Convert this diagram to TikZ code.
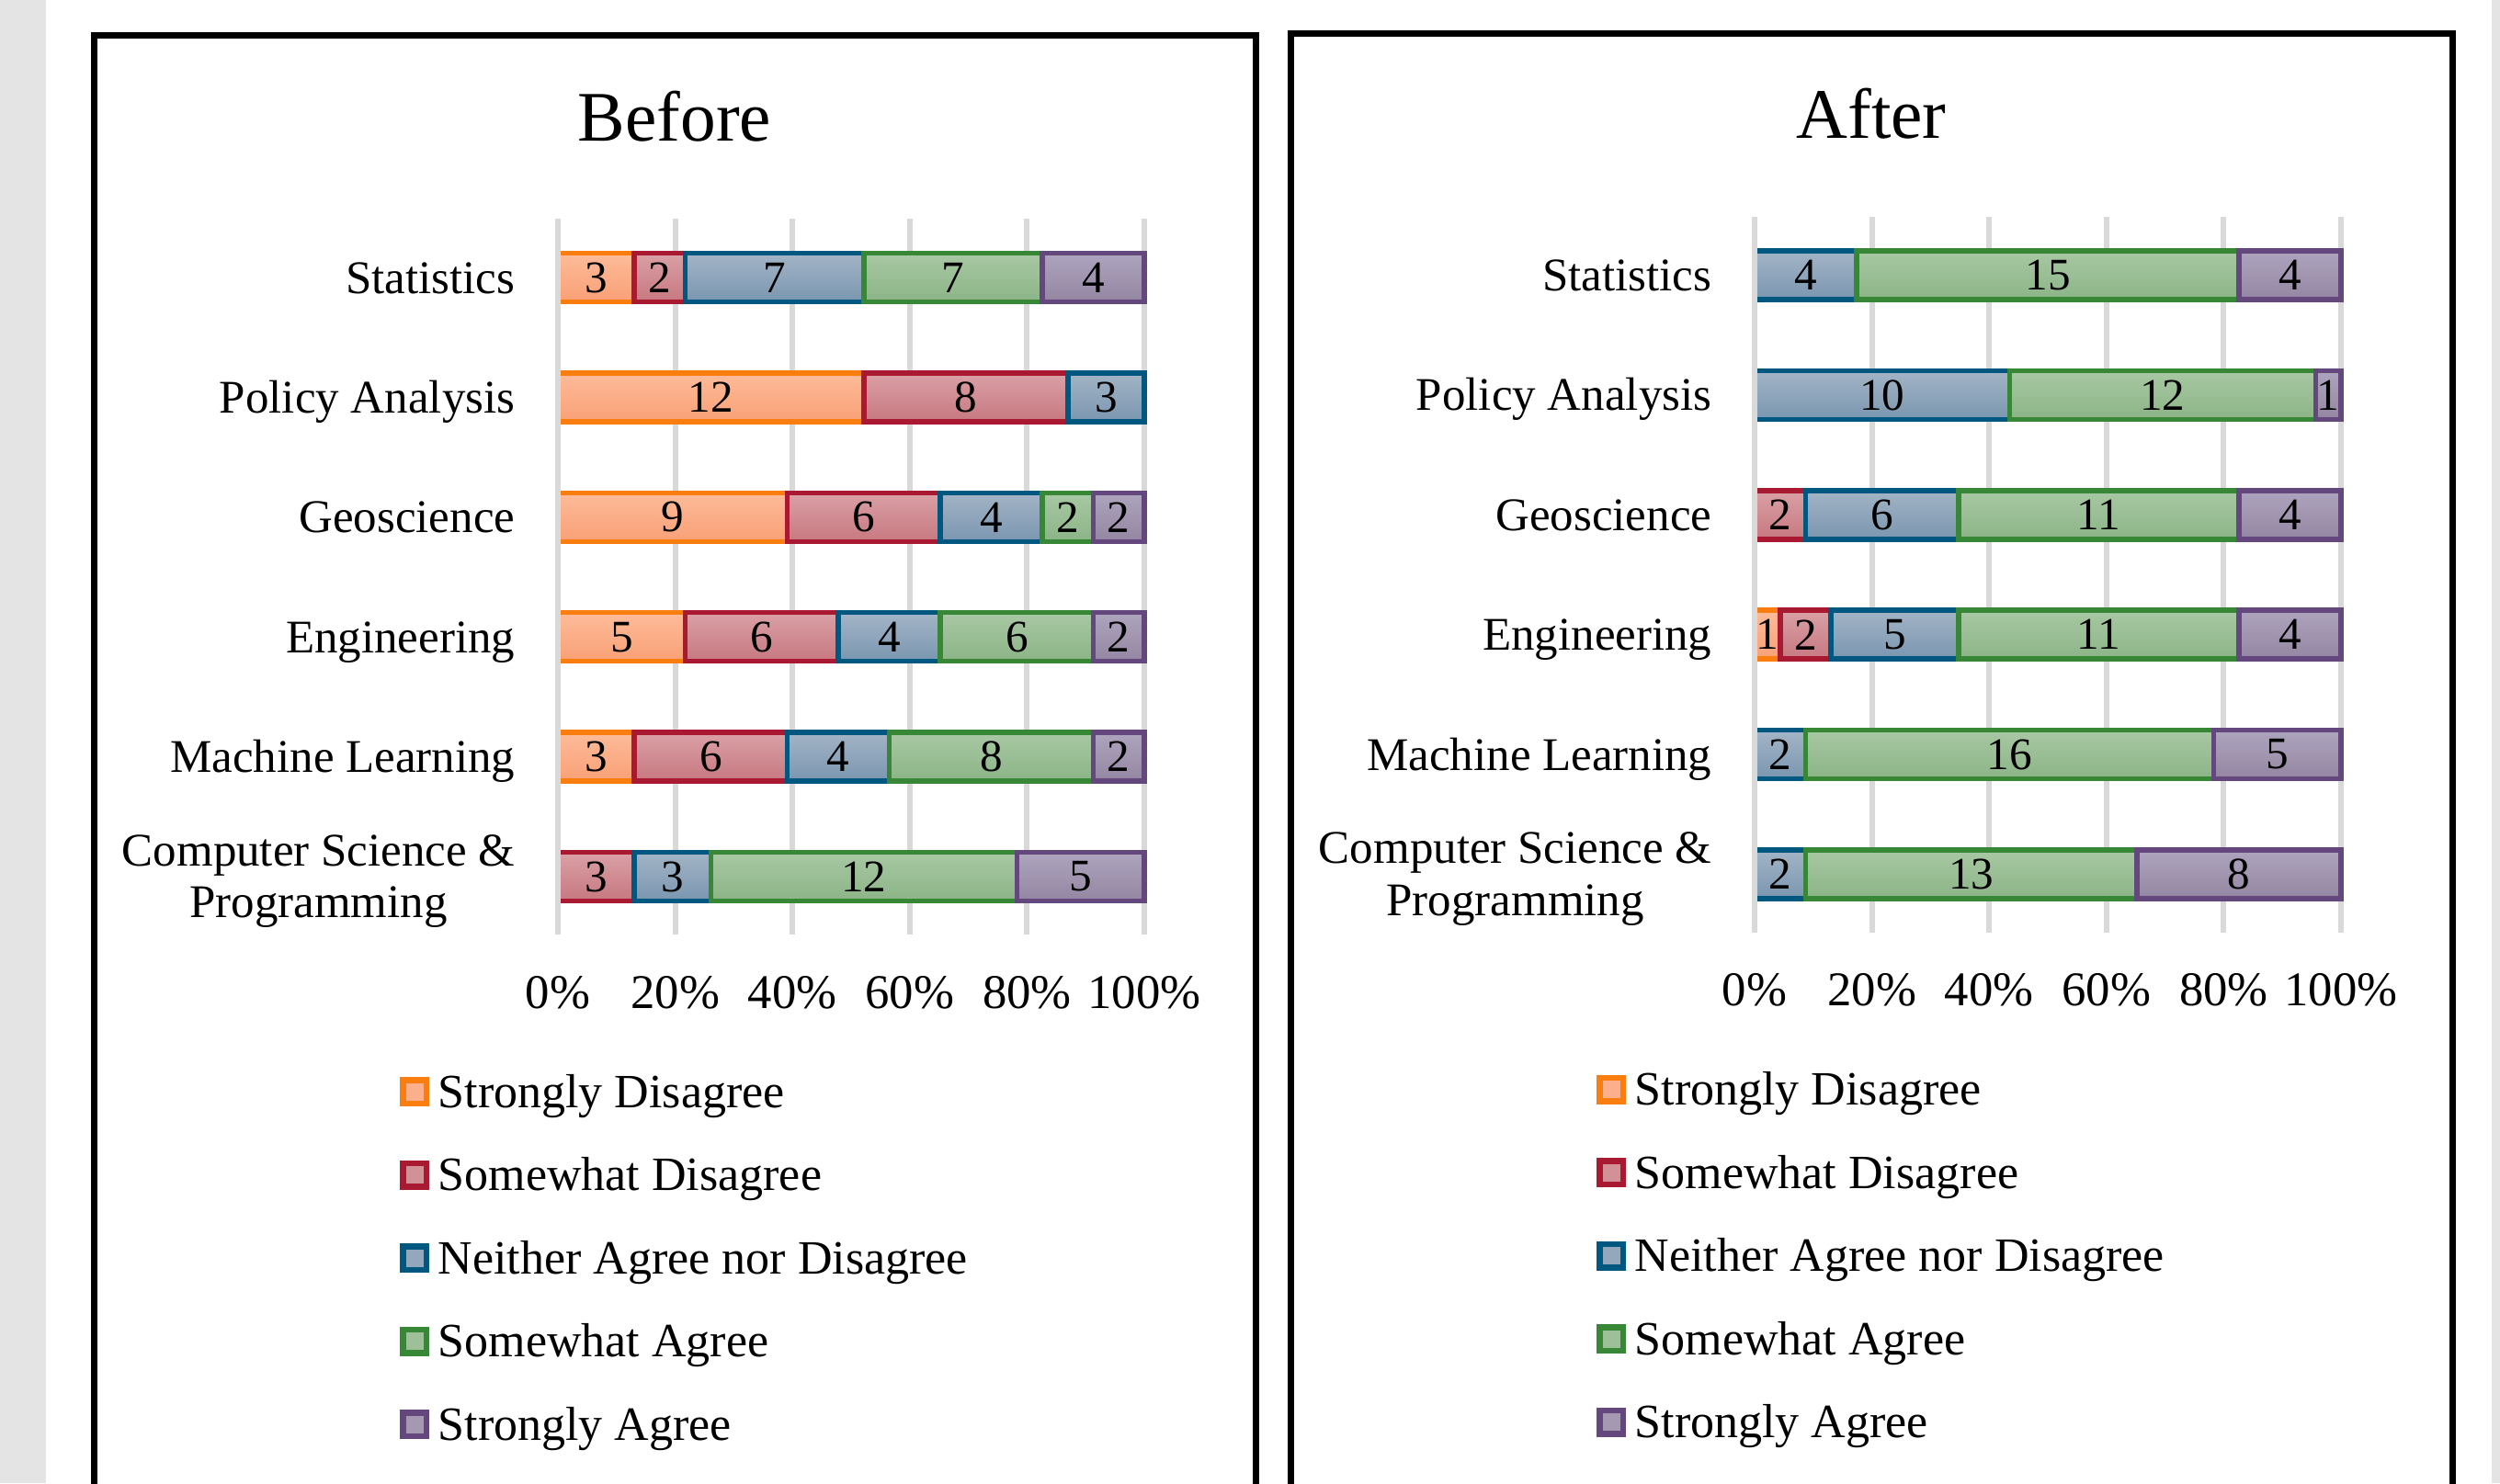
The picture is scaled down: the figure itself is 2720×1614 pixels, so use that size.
\documentclass[tikz,border=0pt]{standalone}
\usepackage{fontspec}
\setmainfont{Liberation Serif}
\definecolor{stripgrey}{RGB}{228,228,228}
\definecolor{gridgrey}{RGB}{217,217,217}
\definecolor{sdB}{RGB}{250,125,15}
\definecolor{sdT}{RGB}{253,187,153}
\definecolor{sdD}{RGB}{249,160,118}
\definecolor{swB}{RGB}{170,25,50}
\definecolor{swT}{RGB}{218,160,166}
\definecolor{swD}{RGB}{199,120,128}
\definecolor{neB}{RGB}{0,88,128}
\definecolor{neT}{RGB}{163,180,198}
\definecolor{neD}{RGB}{122,150,176}
\definecolor{saB}{RGB}{55,135,55}
\definecolor{saT}{RGB}{168,200,163}
\definecolor{saD}{RGB}{140,180,135}
\definecolor{stB}{RGB}{100,72,125}
\definecolor{stT}{RGB}{174,164,190}
\definecolor{stD}{RGB}{148,134,162}
\tikzset{
  frame/.style={draw=black, line width=0.7mm},
  gridln/.style={draw=gridgrey, line width=0.6mm},
  seg1/.style={draw=sdB, top color=sdT, bottom color=sdD, line width=0.55mm},
  seg2/.style={draw=swB, top color=swT, bottom color=swD, line width=0.55mm},
  seg3/.style={draw=neB, top color=neT, bottom color=neD, line width=0.55mm},
  seg4/.style={draw=saB, top color=saT, bottom color=saD, line width=0.55mm},
  seg5/.style={draw=stB, top color=stT, bottom color=stD, line width=0.55mm},
  legsq/.style={line width=0.65mm, minimum size=2.55mm, inner sep=0pt},
  leg1/.style={legsq, draw=sdB, fill=sdT!60!sdD},
  leg2/.style={legsq, draw=swB, fill=swT!60!swD},
  leg3/.style={legsq, draw=neB, fill=neT!60!neD},
  leg4/.style={legsq, draw=saB, fill=saT!60!saD},
  leg5/.style={legsq, draw=stB, fill=stT!60!stD},
  num/.style={font=\fontsize{14}{16}\selectfont, inner sep=0pt, text=black},
  cat/.style={font=\fontsize{14.5}{16.2}\selectfont, inner sep=0pt, text=black},
  tick/.style={font=\fontsize{15}{18}\selectfont, inner sep=0pt, text=black},
  legtxt/.style={font=\fontsize{14.8}{18}\selectfont, inner sep=0pt, text=black},
  ttl/.style={font=\fontsize{22}{26}\selectfont, inner sep=0pt, text=black}
}
\def\unitw{27.739}
\newcommand{\stackbar}[3]{%
  \foreach \v [count=\i, remember=\cb as \ca (initially 0)] in {#3} {%
    \pgfmathsetmacro{\cb}{\ca+\v}%
    \ifnum\v>0
      \draw[seg\i] ({607+\ca*\unitw},{#2-26.5}) rectangle ({607+\cb*\unitw},{#2+26.5});
      \node[num] (#1-\i) at ({607+(\ca+\v/2)*\unitw},#2) {\v};
    \fi
  }%
}
\newcommand{\panelbase}[2]{%
  \draw[frame] (102,38.5) rectangle (1366,1700);
  \node[ttl, anchor=base] (#1-title) at (734,153) {#2};
  \foreach \k in {1,...,5} {\draw[gridln] ({607+127.6*\k},238) -- ({607+127.6*\k},1017);}
  \node[cat, anchor=base east] (#1-c1) at (561,319) {Statistics};
  \node[cat, anchor=base east] (#1-c2) at (561,449.4) {Policy Analysis};
  \node[cat, anchor=base east] (#1-c3) at (561,579.8) {Geoscience};
  \node[cat, anchor=base east] (#1-c4) at (561,710.2) {Engineering};
  \node[cat, anchor=base east] (#1-c5) at (561,840.6) {Machine Learning};
  \node[cat, anchor=east, align=center] (#1-c6) at (561,959) {Computer Science \&\\Programming};
  \foreach \k/\t in {0/0,1/20,2/40,3/60,4/80,5/100} {\node[tick, anchor=base] (#1-t\k) at ({607+127.6*\k},1097) {\t\%};}
  \node[leg1] (#1-l1) at (451,1188) {};
  \node[leg2] (#1-l2) at (451,1278.5) {};
  \node[leg3] (#1-l3) at (451,1369) {};
  \node[leg4] (#1-l4) at (451,1459.5) {};
  \node[leg5] (#1-l5) at (451,1550) {};
  \node[legtxt, anchor=base west] (#1-lt1) at (476,1205) {Strongly Disagree};
  \node[legtxt, anchor=base west] (#1-lt2) at (476,1295.5) {Somewhat Disagree};
  \node[legtxt, anchor=base west] (#1-lt3) at (476,1386) {Neither Agree nor Disagree};
  \node[legtxt, anchor=base west] (#1-lt4) at (476,1476.5) {Somewhat Agree};
  \node[legtxt, anchor=base west] (#1-lt5) at (476,1567) {Strongly Agree};
}
\begin{document}
\begin{tikzpicture}[x=0.1mm,y=-0.1mm]
\useasboundingbox (0,0) rectangle (2720,1614);
\begin{scope}
\clip (0,0) rectangle (2720,1614);
\fill[white] (0,0) rectangle (2720,1614);
\fill[stripgrey] (0,0) rectangle (50,1614);
\fill[stripgrey] (2711,0) rectangle (2720,1614);
% Before panel
\begin{scope}
  \panelbase{b}{Before}
  \stackbar{b1}{302}{3,2,7,7,4}
  \stackbar{b2}{432.4}{12,8,3,0,0}
  \stackbar{b3}{562.8}{9,6,4,2,2}
  \stackbar{b4}{693.2}{5,6,4,6,2}
  \stackbar{b5}{823.6}{3,6,4,8,2}
  \stackbar{b6}{954}{0,3,3,12,5}
  \draw[gridln] (607,238) -- (607,1017);
\end{scope}
% After panel
\begin{scope}[shift={(1302,-2.5)}]
  \panelbase{a}{After}
  \stackbar{a1}{302}{0,0,4,15,4}
  \stackbar{a2}{432.4}{0,0,10,12,1}
  \stackbar{a3}{562.8}{0,2,6,11,4}
  \stackbar{a4}{693.2}{1,2,5,11,4}
  \stackbar{a5}{823.6}{0,0,2,16,5}
  \stackbar{a6}{954}{0,0,2,13,8}
  \draw[gridln] (607,238) -- (607,1017);
\end{scope}
\end{scope}
\end{tikzpicture}
\end{document}
